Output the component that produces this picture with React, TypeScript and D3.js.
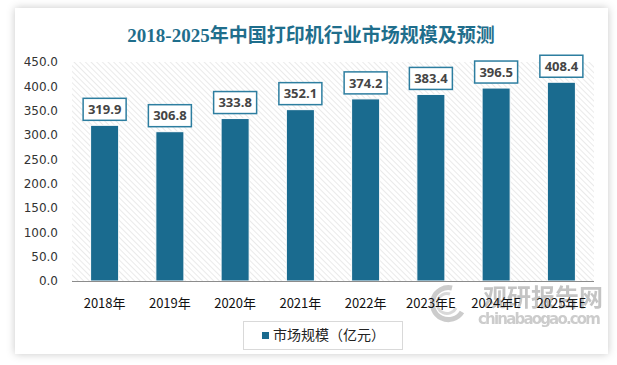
import React from "react";
import * as d3 from "d3";

const years = ["2018年", "2019年", "2020年", "2021年", "2022年", "2023年E", "2024年E", "2025年E"];
const marketSize = [319.9, 306.8, 333.8, 352.1, 374.2, 383.4, 396.5, 408.4];
const yTicks = [0, 50, 100, 150, 200, 250, 300, 350, 400, 450];

const W = 617;
const H = 365;
const BAR = "#1a6b8f";
const plot = { left: 72, right: 594, top: 62, bottom: 281 };

export default function App() {
  const x = d3.scaleBand<string>().domain(years).range([plot.left, plot.right]).paddingInner(0.57).paddingOuter(0.285);
  const y = d3.scaleLinear().domain([0, 450]).range([plot.bottom, plot.top]);
  const bw = x.bandwidth();

  return (
    <svg width={W} height={H} style={{ position: "absolute", left: 0, top: 0 }}>
      <defs>
        <filter id="shadow" x="-5%" y="-5%" width="110%" height="110%">
          <feDropShadow dx="0" dy="0" stdDeviation="4" floodColor="#000" floodOpacity="0.22" />
        </filter>
        <pattern id="hatch" width="4" height="4" patternUnits="userSpaceOnUse" patternTransform="rotate(-45)">
          <rect width="4" height="4" fill="#ffffff" />
          <line x1="0" y1="0" x2="0" y2="4" stroke="#d9d9d9" strokeWidth="1.1" />
        </pattern>
      </defs>
      <rect x={0} y={0} width={W} height={H} fill="#ffffff" />
      <rect x={15} y={8} width={593} height={346} fill="#ffffff" filter="url(#shadow)" />

      {/* title */}
      <text x={311} y={42} textAnchor="middle" fontSize={19} fontWeight="bold"
        fontFamily="'Liberation Serif', 'Noto Sans CJK SC', serif" fill="#1f6e8c">
        2018-2025年中国打印机行业市场规模及预测
      </text>

      {/* plot area */}
      <rect x={plot.left} y={plot.top} width={plot.right - plot.left} height={plot.bottom - plot.top} fill="url(#hatch)" />

      {/* y axis labels */}
      {yTicks.map((t) => (
        <text key={t} x={58} y={y(t)} dy="0.35em" textAnchor="end" fontSize={12}
          fontFamily="'DejaVu Sans', sans-serif" fill="#333">
          {t.toFixed(1)}
        </text>
      ))}

      {/* bars */}
      {years.map((yr, i) => (
        <rect key={yr} x={x(yr)!} y={y(marketSize[i])} width={bw} height={plot.bottom - y(marketSize[i])}
          fill={BAR} stroke="#ffffff" strokeWidth={1} />
      ))}

      <line x1={plot.left} x2={plot.right} y1={plot.bottom + 0.5} y2={plot.bottom + 0.5} stroke="#8c8c8c" strokeWidth={1} />

      {/* data labels */}
      {years.map((yr, i) => {
        const cx = x(yr)! + bw / 2;
        const top = y(marketSize[i]) - 5;
        return (
          <g key={yr}>
            <rect x={cx - 21.5} y={top - 22} width={43} height={22} fill="#ffffff" stroke="#2d7ea0" strokeWidth={1.5} />
            <text x={cx} y={top - 11} dy="0.36em" textAnchor="middle" fontSize={13} fontWeight="bold"
              fontFamily="'Open Sans', 'Liberation Sans', sans-serif" fill="#454545">
              {marketSize[i].toFixed(1)}
            </text>
          </g>
        );
      })}

      {/* watermark */}
      <g opacity={0.5}>
        <path d="M 452 288 A 16 16 0 1 0 462 312" fill="none" stroke="#9a9a9a" strokeWidth={5} />
        <path d="M 450 294 A 10 10 0 1 0 456 308" fill="none" stroke="#b5b5b5" strokeWidth={3} />
        <text x={483} y={306} fontSize={24} fontWeight="bold" fontFamily="'Noto Sans CJK SC', sans-serif" fill="#8a8a8a">
          观研报告网
        </text>
        <text x={478} y={324} fontSize={15} fontWeight="bold" fontFamily="'DejaVu Sans', sans-serif" fill="#9a9a9a" textLength={123}>
          chinabaogao.com
        </text>
      </g>

      {/* x labels */}
      {years.map((yr) => (
        <text key={yr} x={x(yr)! + bw / 2} y={303} dy="0.35em" textAnchor="middle" fontSize={13}
          fontFamily="'Noto Sans CJK SC', sans-serif" fill="#111">
          {yr}
        </text>
      ))}

      {/* legend */}
      <rect x={243.5} y={321.5} width={159} height={28} fill="#ffffff" stroke="#d9d9d9" strokeWidth={1} />
      <rect x={262} y={332} width={7} height={7} fill={BAR} />
      <text x={273} y={335.5} dy="0.35em" fontSize={14} fontFamily="'Noto Sans CJK SC', sans-serif" fill="#222">
        市场规模（亿元）
      </text>
    </svg>
  );
}
